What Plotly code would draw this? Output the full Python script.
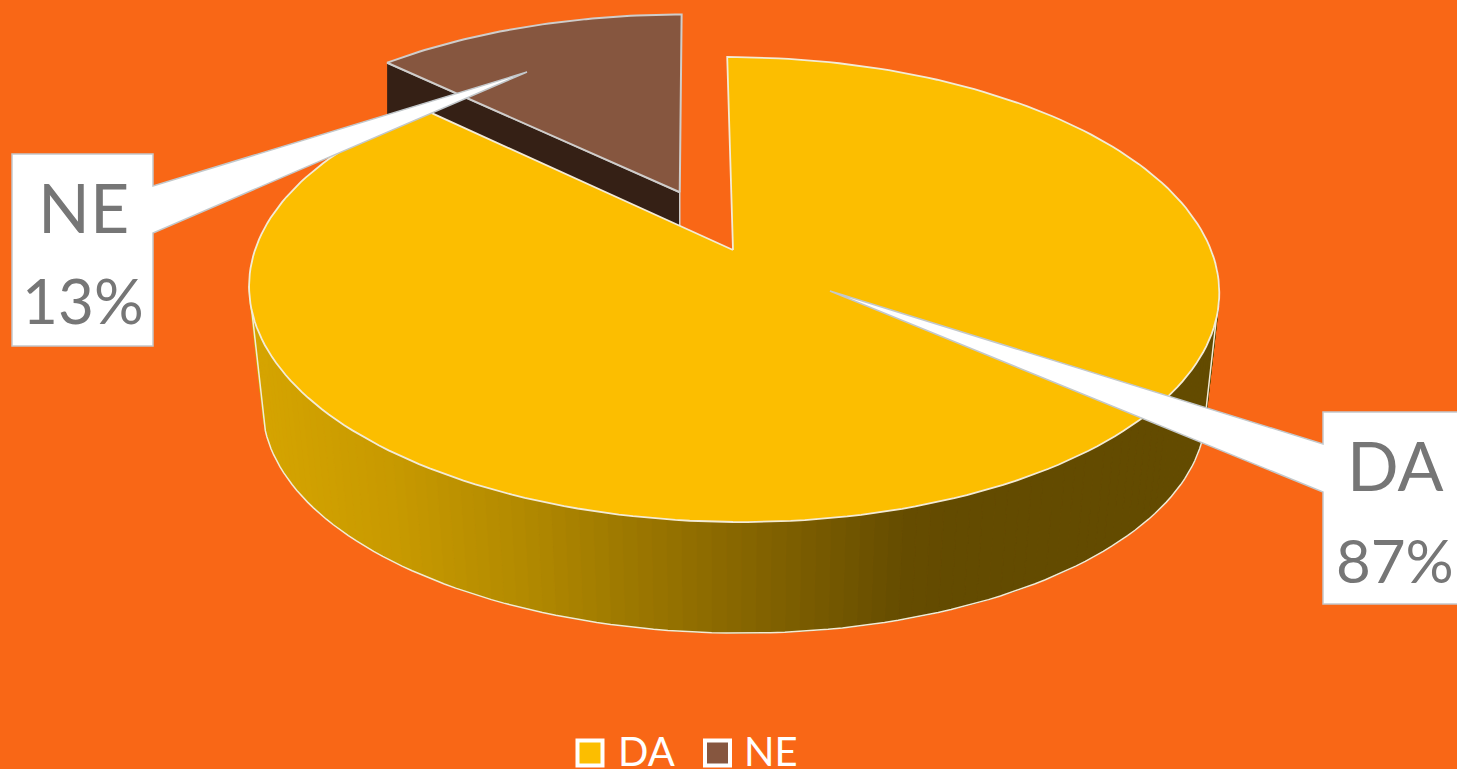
import numpy as np
import plotly.graph_objects as go

categories = ["DA", "NE"]
values = [87.3, 12.7]
percent_labels = ["87%", "13%"]

BG = "#F96716"
TOP_COLORS = {"DA": "#FCBE00", "NE": "#86563F"}
NE_WALL = "#352015"
EDGE_DA = "#F3EBD6"
EDGE_NE = "#CFCDCB"
TEXT = "#767676"
FONT = "Lato, sans-serif"

# perspective camera of the pie (screen pixels)
CX, CY, A, B, K = 733.0, 250.0, 478.0, 225.8, 0.17
SHEAR = 0.03
EXPLODE = 0.29
SX, SY, DY = 0.972, 0.96, 122.0
NE_DEPTH = 62.0


def project(theta, r=1.0, off=(0.0, 0.0)):
    t = np.radians(np.asarray(theta, dtype=float))
    X = r * np.sin(t) + off[0]
    Y = r * np.cos(t) + off[1]
    w = 1 + K * Y
    sy = CY - B * Y / w
    return CX + A * X / w + SHEAR * (sy - CY), sy


def lower(x, y):
    return CX + SX * (x - CX), CY + SY * (y - CY) + DY


total = sum(values)
da_end = 360.0 * values[0] / total
ne_mid = (da_end + 360.0) / 2
off = (EXPLODE * np.sin(np.radians(ne_mid)), EXPLODE * np.cos(np.radians(ne_mid)))

fig = go.Figure()


def poly(xs, ys, fill, line=None, width=1.0):
    fig.add_trace(go.Scatter(
        x=list(xs), y=list(ys), mode="lines", fill="toself", fillcolor=fill,
        line=dict(color=line or fill, width=width), hoverinfo="skip", showlegend=False,
    ))


# NE slice: wall then top
ne_t = np.linspace(da_end, 360.0, 50)
ax, ay = project(0, 0.0, off)
cx_, cy_ = project(da_end, 1.0, off)
poly([cx_, ax, ax, cx_], [cy_, ay, ay + NE_DEPTH, cy_ + NE_DEPTH], NE_WALL, EDGE_NE, 1.5)
ex, ey = project(ne_t, 1.0, off)
poly(np.r_[ax, ex, ax], np.r_[ay, ey, ay], TOP_COLORS["NE"], EDGE_NE, 2)

# DA side wall: strips shaded along x
stop_x = [262, 400, 520, 700, 900, 960, 1220]
stop_r = [0xD6, 0xC8, 0xB4, 0x8F, 0x66, 0x63, 0x63]
stop_g = [0xA5, 0x9A, 0x8B, 0x6D, 0x4D, 0x4B, 0x4B]
side_t = np.linspace(90, 270, 121)
tx, ty = project(side_t)
bx, by = lower(tx, ty)
for i in range(len(side_t) - 1):
    xm = (bx[i] + bx[i + 1]) / 2
    col = "rgb(%d,%d,0)" % (np.interp(xm, stop_x, stop_r), np.interp(xm, stop_x, stop_g))
    poly([tx[i], tx[i + 1], bx[i + 1], bx[i], tx[i]],
         [ty[i], ty[i + 1], by[i + 1], by[i], ty[i]], col, col, 1)
# side wall outline along the silhouette and the lower rim
i0, i1 = np.searchsorted(side_t, 100.0), np.searchsorted(side_t, 260.0)
fig.add_trace(go.Scatter(x=np.r_[tx[i1], bx[i1:i0 - 1:-1], tx[i0]],
                         y=np.r_[ty[i1], by[i1:i0 - 1:-1], ty[i0]],
                         mode="lines", line=dict(color=EDGE_DA, width=1.5),
                         hoverinfo="skip", showlegend=False))

# DA top
da_t = np.linspace(0, da_end, 220)
dx, dy = project(da_t)
poly(np.r_[CX, dx, CX], np.r_[CY, dy, CY], TOP_COLORS["DA"], EDGE_DA, 1.8)

# legend keys as real points
leg_x = [590, 717.5]
fig.add_trace(go.Scatter(
    x=leg_x, y=[753, 753], mode="markers",
    marker=dict(symbol="square", size=25, color=[TOP_COLORS[c] for c in categories],
                line=dict(color="white", width=4)),
    hoverinfo="skip", showlegend=False))

# callouts (box + pointer)
callouts = [
    ([12, 153, 153, 527, 153, 153, 12, 12], [154, 154, 186, 72, 233, 346, 346, 154]),
    ([1323, 1460, 1460, 1323, 1323, 830, 1323, 1323], [412, 412, 604, 604, 492, 291, 444, 412]),
]
for xs, ys in callouts:
    path = "M " + " L ".join(f"{x},{y}" for x, y in zip(xs, ys)) + " Z"
    fig.add_shape(type="path", path=path, xref="x", yref="y", fillcolor="white",
                  line=dict(color="#C3C8CB", width=1.5), layer="above")

annots = [
    (83, 206, categories[1], 68, TEXT), (83, 300, percent_labels[1], 62, TEXT),
    (1395, 464, categories[0], 68, TEXT), (1395, 560, percent_labels[0], 60, TEXT),
    (646, 751, categories[0], 40, "white"), (771, 751, categories[1], 40, "white"),
]
for x, y, t, s, c in annots:
    fig.add_annotation(x=x, y=y, xref="x", yref="y", text=t, showarrow=False,
                       font=dict(family=FONT, size=s, color=c), xanchor="center", yanchor="middle")

fig.update_layout(
    width=1457, height=769, margin=dict(l=0, r=0, t=0, b=0),
    paper_bgcolor=BG, plot_bgcolor=BG, showlegend=False,
    xaxis=dict(range=[0, 1457], visible=False, fixedrange=True),
    yaxis=dict(range=[769, 0], visible=False, fixedrange=True),
)
fig.write_html("out.html", config={"displayModeBar": False},
               post_script="document.body.style.margin='0';document.body.style.overflow='hidden';")
